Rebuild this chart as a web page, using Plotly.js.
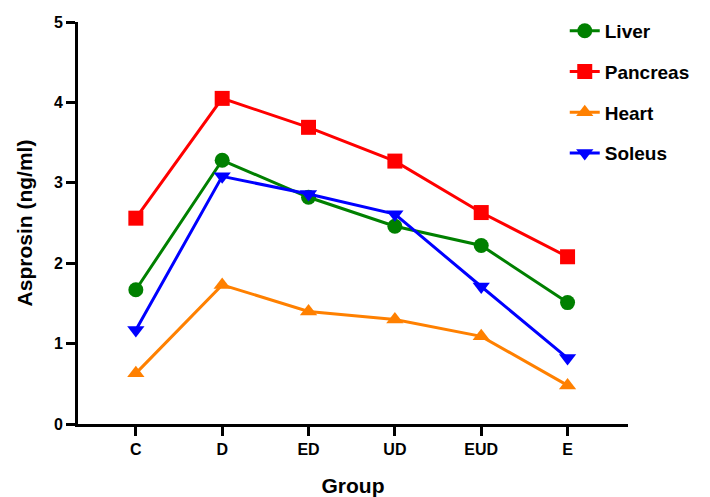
<!DOCTYPE html>
<html><head><meta charset="utf-8">
<script src="https://cdn.plot.ly/plotly-3.0.1.min.js"></script>
<style>html,body{margin:0;padding:0;background:#fff}</style>
</head><body>
<div id="chart" style="width:710px;height:497px"></div>
<script>
var groups = ["C","D","ED","UD","EUD","E"];
var liver = [1.67, 3.28, 2.82, 2.46, 2.22, 1.51];
var pancreas = [2.56, 4.05, 3.69, 3.27, 2.63, 2.08];
var heart = [0.63, 1.73, 1.40, 1.30, 1.09, 0.48];
var soleus = [1.17, 3.08, 2.86, 2.61, 1.71, 0.82];
var yTicks = [0,1,2,3,4,5];

function tr(name, y, color, symbol){
  return {x: groups, y: y, name: name, type: 'scatter', mode: 'lines+markers',
    legendgroup: name,
    line: {color: color, width: 3},
    marker: {color: color, symbol: symbol, size: 15}};
}
var data = [
  tr('Liver', liver, '#008000', 'circle'),
  tr('Pancreas', pancreas, '#ff0000', 'square'),
  tr('Heart', heart, '#ff8000', 'triangle-up'),
  tr('Soleus', soleus, '#0000ff', 'triangle-down')
];
var font = {family: '"Liberation Sans", Arial, sans-serif', color: '#000'};
var layout = {
  width: 710, height: 497,
  margin: {l: 78, r: 82, t: 22, b: 73},
  paper_bgcolor: '#fff', plot_bgcolor: '#fff',
  font: font,
  showlegend: true,
  legend: {x: 0.885, y: 1.025, xanchor: 'left', yanchor: 'top', tracegroupgap: 13,
    font: {family: font.family, size: 19, weight: 'bold', color: '#000'},
    bgcolor: 'rgba(0,0,0,0)'},
  xaxis: {
    type: 'category', range: [-0.67, 5.7],
    showline: true, linecolor: '#000', linewidth: 3,
    ticks: 'outside', ticklen: 9, tickwidth: 3, tickcolor: '#000',
    showgrid: false, zeroline: false,
    tickfont: {family: font.family, size: 16, weight: 'bold'},
    title: {text: '<b>Group</b>', font: {family: font.family, size: 21}, standoff: 22}
  },
  yaxis: {
    range: [0, 5], tickvals: yTicks,
    showline: true, linecolor: '#000', linewidth: 3,
    ticks: 'outside', ticklen: 9, tickwidth: 3, tickcolor: '#000',
    showgrid: false, zeroline: false,
    tickfont: {family: font.family, size: 16, weight: 'bold'},
    title: {text: '<b>Asprosin (ng/ml)</b>', font: {family: font.family, size: 21}, standoff: 16}
  }
};
Plotly.newPlot('chart', data, layout, {displayModeBar: false, staticPlot: true});
</script>
</body></html>
